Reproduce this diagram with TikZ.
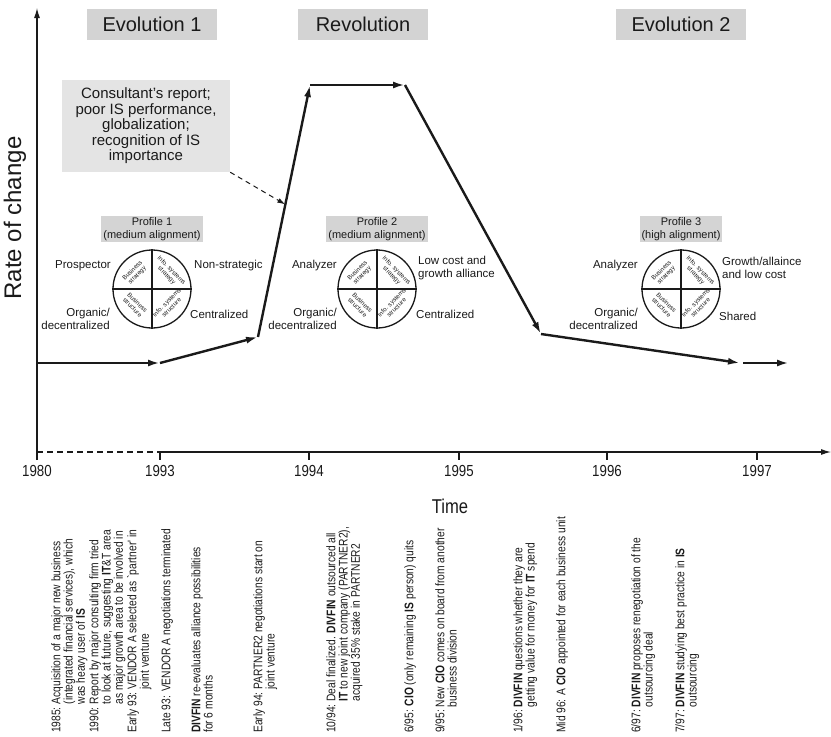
\documentclass[tikz,border=0pt]{standalone}
\usepackage{fontspec}
\setmainfont{Liberation Sans}
\newfontfamily\narrowfont[FakeStretch=0.83]{Liberation Sans}
\newfontfamily\notefont[FakeStretch=0.82]{Liberation Sans}
\usetikzlibrary{arrows.meta,calc}

\definecolor{titlegray}{HTML}{D3D3D3}
\definecolor{calloutgray}{HTML}{E4E4E4}
\definecolor{profgray}{HTML}{D4D4D4}
\definecolor{ink}{HTML}{1A1A1A}

\newcommand\fs[2]{\fontsize{#1}{#2}\selectfont}

\tikzset{
  titlebox/.style={fill=titlegray, minimum width=130pt, minimum height=31pt, inner sep=0pt, font=\fs{20}{24}, text=ink},
  callout/.style={fill=calloutgray, minimum width=168pt, minimum height=92pt, inner sep=0pt, align=center, font=\fs{15}{15.5}, text=ink},
  profbox/.style={fill=profgray, inner xsep=2pt, inner ysep=1.5pt, align=center, font=\fs{11}{12.5}, text=ink},
  sidelab/.style={inner sep=0pt, font=\fs{11.5}{13}, text=ink},
  quad/.style={inner sep=0pt, align=center, font=\fs{6.2}{6.8}, text=ink},
  wheel/.style={circle, draw=ink, line width=1.3pt, minimum size=78pt, inner sep=0pt},
  trend/.style={draw=ink, line width=2.4pt, -{Latex[length=12pt,width=7pt]}},
  axis/.style={draw=ink, line width=1.1pt},
  axisarrow/.style={axis, -{Latex[length=10pt,width=6pt]}},
  ticklab/.style={font=\narrowfont\fs{16}{16}, text=ink},
  eventnote/.style={rotate=90, anchor=north west, inner sep=0pt, font=\notefont\fs{12.5}{11}, text=ink},
}

% strategic alignment wheel: four quadrants with rotated captions
\newcommand\alignwheel[2]{%
  \node[wheel] (#1) at (#2) {};
  \draw[ink, line width=1.2pt] (#1.north) -- (#1.south) (#1.west) -- (#1.east);
  \node[quad, rotate=45]  at ($(#1)+(-17,-16)$) {Business\\strategy};
  \node[quad, rotate=-45] at ($(#1)+(17,-16)$)  {Info. systems\\strategy};
  \node[quad, rotate=-45] at ($(#1)+(-17,16)$)  {Business\\structure};
  \node[quad, rotate=45]  at ($(#1)+(17,16)$)   {Info. systems\\structure};
}

\begin{document}
\begin{tikzpicture}[x=1pt, y=-1pt]
\useasboundingbox (0,0) rectangle (831,737);

% period headings
\node[titlebox] (evo1) at (152,24.5) {Evolution 1};
\node[titlebox] (rev)  at (363,24.5) {Revolution};
\node[titlebox] (evo2) at (681,24.5) {Evolution 2};

% axes
\coordinate (O) at (37,452);
\coordinate (ybot) at (37,460);
\coordinate (ytip) at (37,8);
\coordinate (t1993) at (160,452);
\coordinate (xtip) at (831,452);
\draw[axisarrow] (ybot) -- (ytip);
\draw[axis, dash pattern=on 6pt off 4pt] (O) -- (t1993);
\draw[axisarrow] (t1993) -- (xtip);
\foreach \x/\yr in {37/1980,160/1993,309/1994,459/1995,607/1996,757/1997}{
  \draw[axis] (\x,452) -- (\x,460);
  \node[ticklab] (yr\yr) at (\x,471) {\yr};
}
\node[font=\narrowfont\fs{20}{20}, text=ink] (time) at (450,506) {Time};
\node[rotate=90, font=\fs{24}{24}, text=ink] (ylab) at (15,218) {Rate of change};

% rate of change over time
\coordinate (p0) at (38,363);
\coordinate (p1) at (160,363);
\coordinate (p2) at (258,337);
\coordinate (p3) at (310,85);
\coordinate (p4) at (405,85);
\coordinate (p5) at (541,334);
\coordinate (p6) at (740,363);
\coordinate (p7) at (743,363);
\coordinate (p8) at (789,363);
\draw[trend] (p0) -- (p1);
\draw[trend] (p1) -- (p2);
\draw[trend] (p2) -- (p3);
\draw[trend] (p3) -- (p4);
\draw[trend] (p4) -- (p5);
\draw[trend] (p5) -- (p6);
\draw[trend] (p7) -- (p8);

% triggers of the revolution
\node[callout] (call) at (146,126) {Consultant's report;\\poor IS performance,\\globalization;\\recognition of IS\\importance};
\coordinate (hit) at ($(p2)!0.526!(p3)$);
\draw[ink, line width=1pt, dash pattern=on 5pt off 4pt, -{Latex[length=8pt,width=5pt]}] (call.south east) -- (hit);

% profile 1
\node[profbox] (prof1) at (152,229) {Profile 1\\(medium alignment)};
\alignwheel{w1}{152,289}
\node[sidelab, anchor=east] (bs1) at (111,266) {Prospector};
\node[sidelab, anchor=west] (is1) at (194,266) {Non-strategic};
\node[sidelab, anchor=east, align=right] (bt1) at (110,319) {Organic/\\decentralized};
\node[sidelab, anchor=west] (it1) at (190,314) {Centralized};

% profile 2
\node[profbox] (prof2) at (377,229) {Profile 2\\(medium alignment)};
\alignwheel{w2}{377,289}
\node[sidelab, anchor=east] (bs2) at (337,266) {Analyzer};
\node[sidelab, anchor=west, align=left] (is2) at (418,268) {Low cost and\\growth alliance};
\node[sidelab, anchor=east, align=right] (bt2) at (337,319) {Organic/\\decentralized};
\node[sidelab, anchor=west] (it2) at (416,314) {Centralized};

% profile 3
\node[profbox] (prof3) at (681,229) {Profile 3\\(high alignment)};
\alignwheel{w3}{681,289}
\node[sidelab, anchor=east] (bs3) at (638,266) {Analyzer};
\node[sidelab, anchor=west, align=left] (is3) at (722,268) {Growth/allaince\\and low cost};
\node[sidelab, anchor=east, align=right] (bt3) at (638,319) {Organic/\\decentralized};
\node[sidelab, anchor=west] (it3) at (719,316) {Shared};

% chronology of events
\node[eventnote] (e1) at (51,733) {\begin{tabular}{@{}l@{\ }l@{}}1985: & Acquisition of a major new business\\ & (integrated financial services), which\\ & was heavy user of \textbf{IS}\end{tabular}};
\node[eventnote] (e2) at (89,733) {\begin{tabular}{@{}l@{\ }l@{}}1990: & Report by major consulting firm tried\\ & to look at future, suggesting \textbf{IT}\&T area\\ & as major growth area to be involved in\end{tabular}};
\node[eventnote] (e3) at (127,733) {\begin{tabular}{@{}l@{\ }l@{}}Early 93: & VENDOR A selected as `partner' in\\ & joint venture\end{tabular}};
\node[eventnote] (e4) at (161,733) {\begin{tabular}{@{}l@{}}Late 93: VENDOR A negotiations terminated\end{tabular}};
\node[eventnote] (e5) at (191,733) {\begin{tabular}{@{}l@{}}\textbf{DIVFIN} re-evaluates alliance possibilities\\for 6 months\end{tabular}};
\node[eventnote] (e6) at (253,733) {\begin{tabular}{@{}l@{\ }l@{}}Early 94: & PARTNER2 negotiations start on\\ & joint venture\end{tabular}};
\node[eventnote] (e7) at (326,733) {\begin{tabular}{@{}l@{\ }l@{}}10/94: & Deal finalized. \textbf{DIVFIN} outsourced all\\ & \textbf{IT} to new joint company (PARTNER2),\\ & acquired 35\% stake in PARTNER2\end{tabular}};
\node[eventnote] (e8) at (404,733) {\begin{tabular}{@{}l@{}}6/95: \textbf{CIO} (only remaining \textbf{IS} person) quits\end{tabular}};
\node[eventnote] (e9) at (435,733) {\begin{tabular}{@{}l@{\ }l@{}}9/95: & New \textbf{CIO} comes on board from another\\ & business division\end{tabular}};
\node[eventnote] (e10) at (513,733) {\begin{tabular}{@{}l@{\ }l@{}}1/96: & \textbf{DIVFIN} questions whether they are\\ & getting value for money for \textbf{IT} spend\end{tabular}};
\node[eventnote] (e11) at (556,733) {\begin{tabular}{@{}l@{}}Mid 96: A \textbf{CIO} appointed for each business unit\end{tabular}};
\node[eventnote] (e12) at (631,733) {\begin{tabular}{@{}l@{\ }l@{}}6/97: & \textbf{DIVFIN} proposes renegotiation of the\\ & outsourcing deal\end{tabular}};
\node[eventnote] (e13) at (675,733) {\begin{tabular}{@{}l@{\ }l@{}}7/97: & \textbf{DIVFIN} studying best practice in \textbf{IS}\\ & outsourcing\end{tabular}};
\end{tikzpicture}
\end{document}
